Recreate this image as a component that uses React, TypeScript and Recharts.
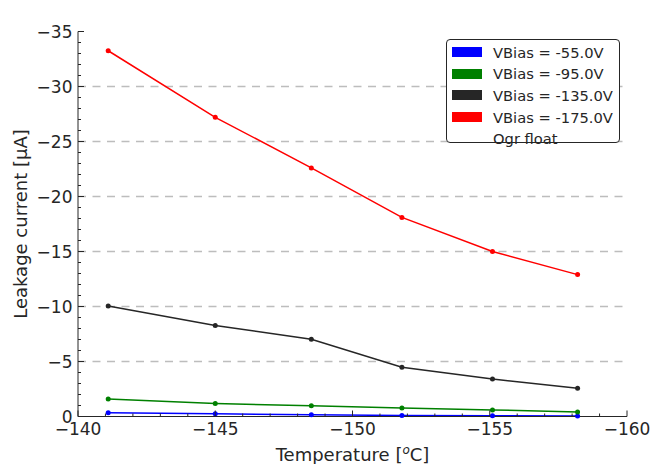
import React from 'react'
import { LineChart, Line, XAxis, YAxis, CartesianGrid } from 'recharts'

// temperature points (degC) and leakage current per bias (uA)
const temperatures = [-141.1, -145.0, -148.5, -151.8, -155.1, -158.2]
const vbias55 = [-0.35, -0.24, -0.15, -0.1, -0.07, -0.05]
const vbias95 = [-1.6, -1.18, -0.98, -0.78, -0.6, -0.42]
const vbias135 = [-10.05, -8.28, -7.02, -4.47, -3.4, -2.56]
const vbias175 = [-33.25, -27.2, -22.6, -18.1, -15.0, -12.9]

const xTicks = [-140, -145, -150, -155, -160]
const yTicks = [0, -5, -10, -15, -20, -25, -30, -35]
const gridValues = [-5, -10, -15, -20, -25, -30]
const legendNote = 'Ogr float'

const series = [
  { key: 'v55', name: 'VBias = -55.0V', color: '#0000ff', values: vbias55 },
  { key: 'v95', name: 'VBias = -95.0V', color: '#008000', values: vbias95 },
  { key: 'v135', name: 'VBias = -135.0V', color: '#262626', values: vbias135 },
  { key: 'v175', name: 'VBias = -175.0V', color: '#ff0000', values: vbias175 },
]

const data = temperatures.map((t, i) => {
  const row: Record<string, number> = { t }
  series.forEach(s => { row[s.key] = s.values[i] })
  return row
})

// minor ticks every unit, majors are the labelled ones
const range = (a: number, b: number) => Array.from({ length: Math.abs(b - a) + 1 }, (_, i) => a - i)
const xMinor = range(xTicks[0], xTicks[xTicks.length - 1])
const yMinor = range(yTicks[0], yTicks[yTicks.length - 1])

const FONT = '"DejaVu Sans", sans-serif'
const INK = '#262626'
const MAJOR = 6
const MINOR = 3

const fmt = (v: number) => (v === 0 ? '0' : '\u2212' + Math.abs(v))
const isMajor = (v: number) => Math.abs(v) % 5 === 0

function BottomTick({ x, y, payload }: any) {
  const v = payload.value
  return (
    <g>
      <line x1={x} y1={y} x2={x} y2={y - (isMajor(v) ? MAJOR : MINOR)} stroke={INK} />
      {isMajor(v) && (
        <text x={x} y={y + 18.5} textAnchor="middle" fontSize={17} fill={INK} fontFamily={FONT}>
          {fmt(v)}
        </text>
      )}
    </g>
  )
}

function TopTick({ x, y, payload }: any) {
  const v = payload.value
  return <line x1={x} y1={y} x2={x} y2={y + (isMajor(v) ? MAJOR : MINOR)} stroke={INK} />
}

function LeftTick({ x, y, payload }: any) {
  const v = payload.value
  return (
    <g>
      <line x1={x} y1={y} x2={x + (isMajor(v) ? MAJOR : MINOR)} y2={y} stroke={INK} />
      {isMajor(v) && (
        <text x={x - 5.5} y={y + 6} textAnchor="end" fontSize={17} fill={INK} fontFamily={FONT}>
          {fmt(v)}
        </text>
      )}
    </g>
  )
}

function RightTick({ x, y, payload }: any) {
  const v = payload.value
  return <line x1={x} y1={y} x2={x - (isMajor(v) ? MAJOR : MINOR)} y2={y} stroke={INK} />
}

function XLabel({ viewBox }: any) {
  const cx = viewBox.x + viewBox.width / 2
  return (
    <text x={cx} y={viewBox.y + 44.5} textAnchor="middle" fontSize={18} fill={INK} fontFamily={FONT}>
      Temperature [
      <tspan fontSize={12} fontStyle="italic" dy={-7}>o</tspan>
      <tspan dy={7}>C]</tspan>
    </text>
  )
}

function YLabel({ viewBox }: any) {
  const cy = viewBox.y + viewBox.height / 2
  return (
    <text x={20} y={cy} transform={`rotate(-90 20 ${cy})`} textAnchor="middle" dominantBaseline="central" fontSize={18} fill={INK} fontFamily={FONT}>
      Leakage current [µA]
    </text>
  )
}

function Title({ viewBox }: any) {
  const cx = viewBox.x + viewBox.width / 2
  return (
    <text x={cx} y={viewBox.y - 5.5} textAnchor="middle" fontSize={18} fill={INK} fontFamily={FONT}>
      Total leakage current
    </text>
  )
}

export default function App() {
  return (
    <div style={{ position: 'absolute', left: 0, top: 0, width: 654, height: 464, background: '#fff' }}>
      <LineChart width={654} height={464} data={data} margin={{ top: 31.5, right: 27, bottom: 0, left: 0 }}>
        <CartesianGrid xAxisId="x" yAxisId="y" vertical={false} horizontalValues={gridValues} stroke="#bdbdbd" strokeWidth={1.3} strokeDasharray="8 6.5" />
        <XAxis
          xAxisId="x"
          dataKey="t"
          type="number"
          domain={[-160, -140]}
          reversed
          ticks={xMinor}
          interval={0}
          height={47.5}
          tickSize={0}
          tickMargin={0}
          tickLine={false}
          tick={<BottomTick />}
          stroke={INK}
          label={{ content: <XLabel /> }}
        />
        <XAxis
          xAxisId="top"
          orientation="top"
          dataKey="t"
          type="number"
          domain={[-160, -140]}
          reversed
          ticks={xMinor}
          interval={0}
          height={0}
          tickSize={0}
          tickMargin={0}
          tickLine={false}
          tick={<TopTick />}
          stroke={INK}
          label={{ content: <Title /> }}
        />
        <YAxis
          yAxisId="y"
          type="number"
          domain={[-35, 0]}
          reversed
          ticks={yMinor}
          interval={0}
          width={78}
          tickSize={0}
          tickMargin={0}
          tickLine={false}
          tick={<LeftTick />}
          stroke={INK}
          label={{ content: <YLabel /> }}
        />
        <YAxis
          yAxisId="right"
          orientation="right"
          type="number"
          domain={[-35, 0]}
          reversed
          ticks={yMinor}
          interval={0}
          width={0}
          tickSize={0}
          tickMargin={0}
          tickLine={false}
          tick={<RightTick />}
          stroke={INK}
        />
        {series.map(s => (
          <Line
            key={s.key}
            xAxisId="x"
            yAxisId="y"
            dataKey={s.key}
            name={s.name}
            stroke={s.color}
            strokeWidth={1.5}
            dot={{ r: 2.5, fill: s.color, stroke: 'none' }}
            activeDot={false}
            isAnimationActive={false}
          />
        ))}
      </LineChart>
      <div
        style={{
          position: 'absolute',
          left: 446,
          top: 39,
          width: 174,
          height: 104,
          boxSizing: 'border-box',
          border: `1px solid ${INK}`,
          borderRadius: 4,
          background: '#fff',
          fontFamily: FONT,
          fontSize: 14.7,
          color: INK,
        }}
      >
        {series.map((s, i) => (
          <div key={s.key} style={{ position: 'absolute', left: 5, top: 1.5 + i * 21.7, height: 21, display: 'flex', alignItems: 'center' }}>
            <span style={{ display: 'inline-block', width: 30, height: 10, background: s.color, marginRight: 11 }} />
            <span style={{ whiteSpace: 'nowrap' }}>{s.name}</span>
          </div>
        ))}
        <div style={{ position: 'absolute', left: 46, top: 1.5 + 4 * 21.7, height: 21, display: 'flex', alignItems: 'center', whiteSpace: 'nowrap' }}>
          {legendNote}
        </div>
      </div>
    </div>
  )
}
